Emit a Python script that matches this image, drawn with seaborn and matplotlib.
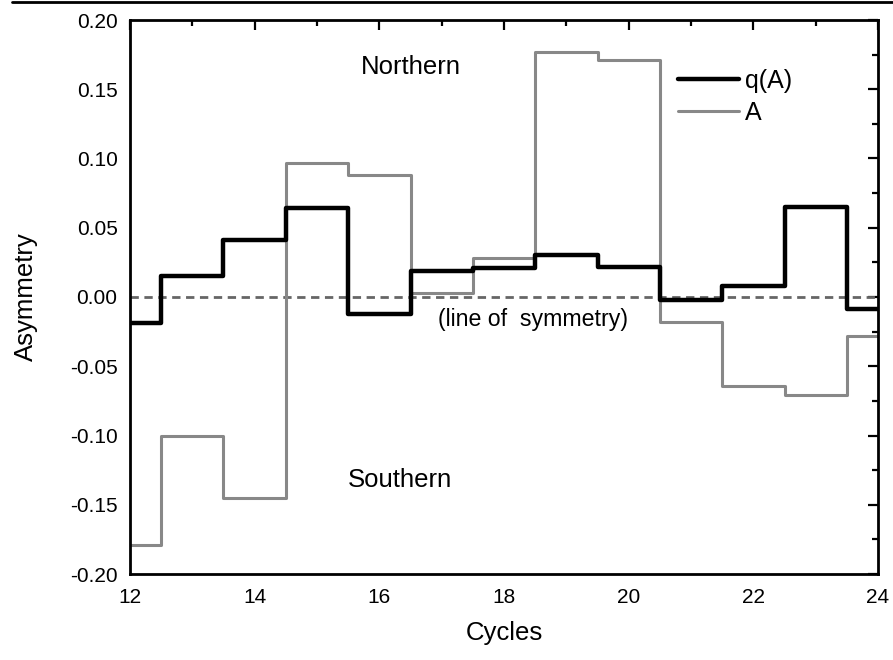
import matplotlib
matplotlib.use("Agg")
import matplotlib.pyplot as plt
import seaborn as sns
import pandas as pd
from matplotlib.lines import Line2D
from matplotlib.ticker import MultipleLocator

cycles = [12, 13, 14, 15, 16, 17, 18, 19, 20, 21, 22, 23, 24]
qA = [-0.019, 0.015, 0.041, 0.064, -0.012, 0.019, 0.021, 0.030, 0.022, -0.002, 0.008, 0.065, -0.009]
A = [-0.179, -0.100, -0.145, 0.097, 0.088, 0.003, 0.028, 0.177, 0.171, -0.018, -0.064, -0.071, -0.028]

df = pd.DataFrame({"Cycles": cycles, "q(A)": qA, "A": A})

sns.set_style("white")
plt.rcParams['font.family'] = ['Liberation Sans', 'DejaVu Sans']
plt.rcParams.update({"text.color": "black", "axes.labelcolor": "black",
                     "xtick.color": "black", "ytick.color": "black"})

fig = plt.figure(figsize=(8.93, 6.6), dpi=100)
ax = fig.add_axes([130/893, 1 - 574/660, (878-130)/893, (574-20)/660])

ax.axhline(0, color="#666666", lw=2.0, ls=(0, (3, 2)), zorder=1)
sns.lineplot(data=df, x="Cycles", y="A", ax=ax, drawstyle="steps-mid", color="#888888", lw=2.2, label="A", zorder=2)
sns.lineplot(data=df, x="Cycles", y="q(A)", ax=ax, drawstyle="steps-mid", color="black", lw=3.2, label="q(A)", zorder=3)

ax.set_xlim(12, 24)
ax.set_ylim(-0.20, 0.20)
ax.xaxis.set_major_locator(MultipleLocator(2))
ax.xaxis.set_minor_locator(MultipleLocator(1))
ax.yaxis.set_major_locator(MultipleLocator(0.05))
ax.yaxis.set_minor_locator(MultipleLocator(0.025))
ax.set_yticklabels([f"{v:.2f}" for v in ax.get_yticks()])
ax.tick_params(which="both", direction="in", top=True, right=True, width=1.6, labelsize=15)
ax.tick_params(axis="x", pad=10)
ax.tick_params(axis="y", pad=9)
ax.tick_params(which="major", length=7.5)
ax.tick_params(which="minor", length=4)
for s in ax.spines.values():
    s.set_linewidth(2.0)
    s.set_color("black")

ax.set_xlabel("Cycles", fontsize=18.5, labelpad=10)
ax.set_ylabel("Asymmetry", fontsize=18.5, labelpad=23)

handles, labels = ax.get_legend_handles_labels()
order = [labels.index("q(A)"), labels.index("A")]
ax.legend([handles[i] for i in order], [labels[i] for i in order], loc="upper left",
          bbox_to_anchor=(0.732, 0.912), frameon=False, fontsize=18, handlelength=2.45,
          handletextpad=0.25, labelspacing=0.33, borderpad=0, borderaxespad=0)

ax.text(16.51, 0.166, "Northern", fontsize=18.5, ha="center", va="center")
ax.text(16.33, -0.132, "Southern", fontsize=18.5, ha="center", va="center")
ax.text(18.46, -0.016, "(line of  symmetry)", fontsize=16.7, ha="center", va="center")

fig.add_artist(Line2D([12/893, 1], [1 - 1.5/660, 1 - 1.5/660], color="black", lw=2.0))

fig.savefig("out.png", dpi=100)
